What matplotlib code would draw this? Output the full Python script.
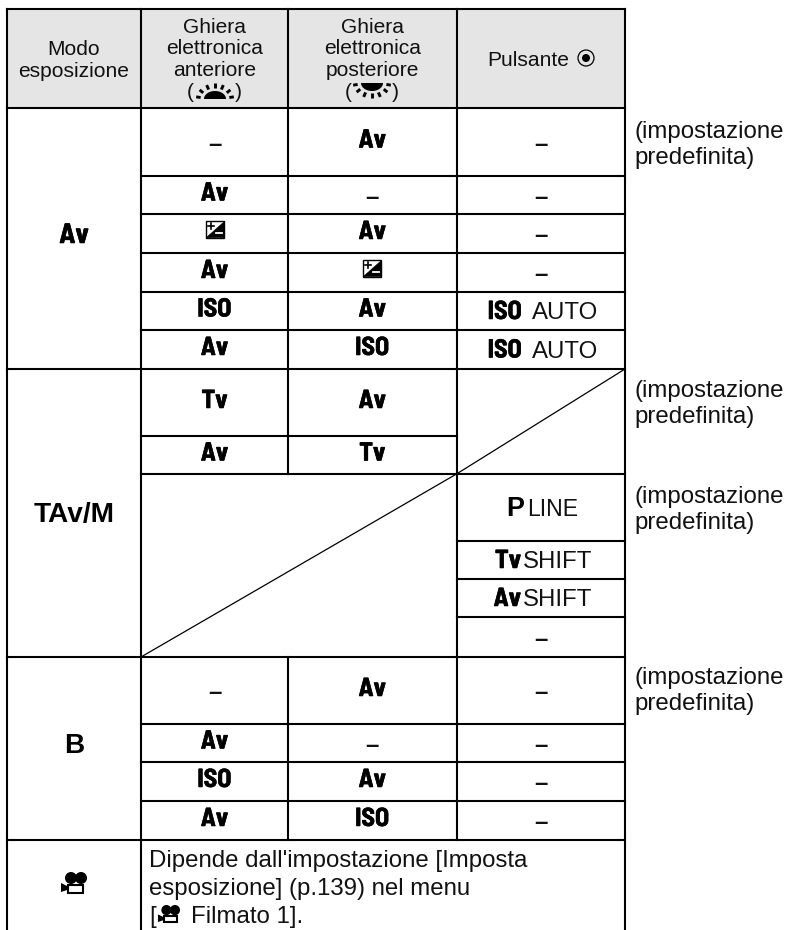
import matplotlib
matplotlib.use('Agg')
import matplotlib.pyplot as plt
import matplotlib.patheffects as pe
from matplotlib.patches import Rectangle, Polygon, Circle
import numpy as np

# table content
mode_labels = ['Av', 'TAv/M', 'B']
header_mode = ['Modo', 'esposizione']
header_front = ['Ghiera', 'elettronica', 'anteriore']
header_rear = ['Ghiera', 'elettronica', 'posteriore']
av_front = ['–', 'Av', 'EV', 'Av', 'ISO', 'Av']
av_rear = ['Av', '–', 'Av', 'EV', 'Av', 'ISO']
av_button = ['–', '–', '–', '–', 'ISO AUTO', 'ISO AUTO']
tav_front = ['Tv', 'Av']
tav_rear = ['Av', 'Tv']
tav_button = [('P', 'LINE'), ('Tv', 'SHIFT'), ('Av', 'SHIFT'), ('–', '')]
b_front = ['–', 'Av', 'ISO', 'Av']
b_rear = ['Av', '–', 'Av', 'ISO']
b_button = ['–', '–', '–', '–']
note_lines = ["Dipende dall'impostazione [Imposta", 'esposizione] (p.139) nel menu']
side_note = ['(impostazione', 'predefinita)']

# layout in pixels
col_x = [7, 141, 288, 456.5, 625]
av_y = [108, 176, 214, 253, 292, 330, 369]
tav_y = [369, 436, 474]
btn_y = [474, 541, 579, 617, 657]
b_y = [657, 724, 762, 801, 840]
side_y = [138, 397, 503, 684]

narrow = ['Barlow Semi Condensed', 'Liberation Sans']
sans = 'Liberation Sans'
PX = 0.72  # px to pt at dpi 100

fig = plt.figure(figsize=(7.85, 9.3), dpi=100)
ax = fig.add_axes([0, 0, 1, 1])
ax.set_xlim(0, 785)
ax.set_ylim(930, 0)
ax.axis('off')

LW = 1.5


def hline(y, x0, x1, lw=LW):
    ax.plot([x0, x1], [y, y], color='black', lw=lw, solid_capstyle='projecting')


def vline(x, y0, y1, lw=LW):
    ax.plot([x, x], [y0, y1], color='black', lw=lw, solid_capstyle='projecting')


def plain(x, y, s, size=21, ha='center', weight='normal'):
    ax.text(x, y, s, fontsize=size * PX, family=sans, ha=ha, va='baseline', color='#111111', weight=weight)


def sym(x, y, s, size=26, ha='center'):
    # the camera glyphs are narrow and heavy
    t = ax.text(x, y, s, fontsize=size * PX, family=narrow, weight='bold', ha=ha, va='baseline', color='black')
    t.set_path_effects([pe.withStroke(linewidth=0.4, foreground='black')])


def ev_icon(cx, cy):
    x0, y0, w, h = cx - 9, cy - 8, 18, 16.5
    ax.add_patch(Rectangle((x0, y0), w, h, fc='white', ec='black', lw=1))
    ax.add_patch(Polygon([(x0 + w, y0), (x0 + w, y0 + h), (x0, y0 + h)], fc='black', ec='black', lw=0.5))
    ax.plot([x0 + 2, x0 + 8], [y0 + 5, y0 + 5], color='black', lw=1.2)
    ax.plot([x0 + 5, x0 + 5], [y0 + 2, y0 + 8], color='black', lw=1.2)
    ax.plot([x0 + 10, x0 + 16], [y0 + 12.5, y0 + 12.5], color='white', lw=1.3)


def dial(cx, cy, up=True):
    sign = -1 if up else 1
    t = np.radians(np.linspace(0, 180, 40))
    px = cx + 11 * np.cos(t)
    py = cy + sign * 8 * np.sin(t)
    ax.add_patch(Polygon(np.column_stack([px, py]), fc='black', ec='none'))
    for a in [8, 36, 64, 90, 116, 144, 172]:
        r = np.radians(a)
        ax.plot([cx + 14.5 * np.cos(r), cx + 19 * np.cos(r)],
                [cy + sign * 10.5 * np.sin(r), cy + sign * 15.5 * np.sin(r)],
                color='black', lw=2.1, solid_capstyle='butt')


def movie(cx, cy, k=1.0):
    ax.add_patch(Circle((cx - 3 * k, cy - 4 * k), 6 * k, fc='black', ec='none'))
    ax.add_patch(Circle((cx + 7 * k, cy - 4 * k), 6 * k, fc='black', ec='none'))
    ax.add_patch(Rectangle((cx - 6 * k, cy + 3 * k), 15 * k, 7.5 * k, fc='white', ec='black', lw=1.5))
    ax.add_patch(Polygon([(cx - 13 * k, cy + 1 * k), (cx - 7 * k, cy + 4 * k), (cx - 7 * k, cy + 8 * k), (cx - 13 * k, cy + 10 * k)],
                         fc='black', ec='none'))


def cell(x, y, s):
    if s == '–':
        plain(x, y + 8.5, s, size=24, weight='bold')
    elif s == 'EV':
        ev_icon(x, y - 4.5)
    elif s == 'ISO AUTO':
        sym(522, y + 8, 'ISO', ha='right')
        plain(532, y + 8, 'AUTO', size=24, ha='left')
    else:
        sym(x, y + 5.5, s)


# header
ax.add_patch(Rectangle((col_x[0], 9), col_x[4] - col_x[0], 99, fc='#e5e5e5', ec='none'))
mid = [(col_x[i] + col_x[i + 1]) / 2 for i in range(4)]
for s, y in zip(header_mode, [55, 77]):
    plain(mid[0], y, s)
for s, y in zip(header_front, [33, 54, 76]):
    plain(mid[1], y, s)
for s, y in zip(header_rear, [33, 54, 76]):
    plain(mid[2], y, s)
plain(187, 98, '(', ha='left')
plain(242, 98, ')', ha='right')
plain(345, 98, '(', ha='left')
plain(398.5, 98, ')', ha='right')
dial(215, 99, up=True)
dial(372, 83, up=False)
plain(487, 66, 'Pulsante', ha='left')
ax.add_patch(Circle((586, 58), 8, fc='none', ec='black', lw=0.9))
ax.add_patch(Circle((586, 58), 4, fc='black', ec='none'))

# grid lines
hline(9, col_x[0], col_x[4])
for y in [108, 369, 657, 840]:
    hline(y, col_x[0], col_x[4])
for y in av_y[1:-1] + b_y[1:-1] + [474]:
    hline(y, col_x[1], col_x[4])
hline(436, col_x[1], col_x[3])
for y in btn_y[1:-1]:
    hline(y, col_x[3], col_x[4])
for x in [col_x[0], col_x[1], col_x[4]]:
    vline(x, 9, 930)
vline(col_x[2], 9, 474)
vline(col_x[2], 657, 840)
vline(col_x[3], 9, 840)
ax.plot([col_x[1], col_x[3]], [657, 474], color='black', lw=0.9)
ax.plot([col_x[3], col_x[4]], [474, 369], color='black', lw=0.9)

# cells
for i in range(6):
    c = (av_y[i] + av_y[i + 1]) / 2
    cell(mid[1], c, av_front[i])
    cell(mid[2], c, av_rear[i])
    cell(mid[3], c, av_button[i])
for i in range(2):
    c = (tav_y[i] + tav_y[i + 1]) / 2
    cell(mid[1], c, tav_front[i])
    cell(mid[2], c, tav_rear[i])
for i in range(4):
    c = (b_y[i] + b_y[i + 1]) / 2
    cell(mid[1], c, b_front[i])
    cell(mid[2], c, b_rear[i])
    cell(mid[3], c, b_button[i])

# button column of the TAv row
for i, (a, b) in enumerate(tav_button):
    c = (btn_y[i] + btn_y[i + 1]) / 2
    if a == '–':
        cell(mid[3], c, a)
    elif a == 'P':
        ax.text(524, c + 8.5, a, fontsize=27 * PX, family=sans, weight='bold', ha='right', va='baseline')
        plain(527, c + 8.5, b, size=23, ha='left')
    else:
        sym(521, c + 8, a, ha='right')
        plain(523, c + 8, b, size=24, ha='left')

# mode column
sym(mid[0], 243, mode_labels[0], size=28)
ax.text(mid[0], 522, mode_labels[1], fontsize=28 * PX, family=sans, weight='bold', ha='center', va='baseline')
ax.text(mid[0], 753, mode_labels[2], fontsize=28 * PX, family=sans, weight='bold', ha='center', va='baseline')
movie(74, 882)

# note row
for s, y in zip(note_lines, [867, 895]):
    plain(149, y, s, size=24, ha='left')
plain(149, 923, '[', size=24, ha='left')
movie(169, 913.5, k=0.85)
plain(191, 923, 'Filmato 1].', size=24, ha='left')

# notes on the right
for y in side_y:
    plain(634, y, side_note[0], size=24, ha='left')
    plain(634, y + 26, side_note[1], size=24, ha='left')

fig.savefig('out.png', dpi=100)
